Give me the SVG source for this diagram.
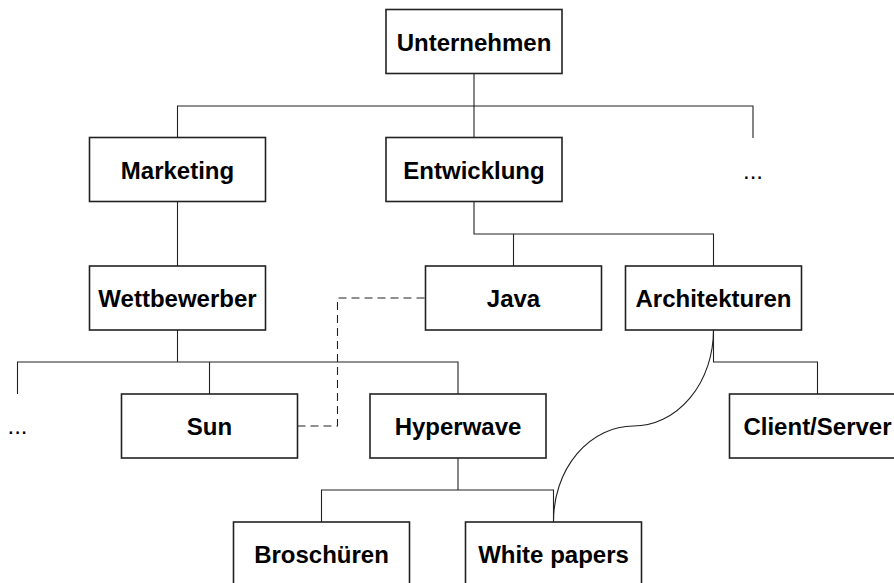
<svg xmlns="http://www.w3.org/2000/svg" width="894" height="583" viewBox="0 0 894 583">
  <style>
    .box rect { fill: #fff; stroke: #222; stroke-width: 1.6; }
    .box text { font-family: "Liberation Sans", Arial, sans-serif; font-weight: bold; font-size: 24px; text-anchor: middle; fill: #000; }
    .more { font-family: "Liberation Sans", Arial, sans-serif; font-size: 24px; text-anchor: middle; fill: #000; }
    #connectors path { fill: none; stroke: #222; stroke-width: 1.1; }
    #connectors .dashed { stroke-dasharray: 8 5; }
  </style>
  <rect width="894" height="583" fill="#fff"/>

  <!-- tree connectors, drawn beneath the boxes -->
  <g id="connectors">
    <path d="M474,73.5 V137.5"/>
    <path d="M177.5,137.5 V106 H753 V138"/>
    <path d="M177.5,201.5 V266"/>
    <path d="M474,201.5 V234 H713.5 V266"/>
    <path d="M513.5,234 V266"/>
    <path d="M177.5,330 V362"/>
    <path d="M17.5,394 V362 H458 V394"/>
    <path d="M209.5,362 V394"/>
    <path d="M713.5,330 V362 H817.5 V394"/>
    <path d="M458,458 V490"/>
    <path d="M321.5,522 V490 H553.5 V522"/>
    <path class="dashed" d="M297.5,426 H337.5 V298 H425.5"/>
    <path d="M713.5,330 A80,96 0 0 1 633.5,426 A80,95 0 0 0 553.5,521"/>
  </g>

  <g id="unternehmen" class="box"><rect x="386" y="9.5" width="176" height="64"/><text x="474" y="50.5">Unternehmen</text></g>
  <g id="marketing" class="box"><rect x="89.5" y="137.5" width="176" height="64"/><text x="177.5" y="178.5">Marketing</text></g>
  <g id="entwicklung" class="box"><rect x="386" y="137.5" width="176" height="64"/><text x="474" y="178.5">Entwicklung</text></g>
  <g id="wettbewerber" class="box"><rect x="89.5" y="266" width="176" height="64"/><text x="177.5" y="307">Wettbewerber</text></g>
  <g id="java" class="box"><rect x="425.5" y="266" width="176" height="64"/><text x="513.5" y="307">Java</text></g>
  <g id="architekturen" class="box"><rect x="625.5" y="266" width="176" height="64"/><text x="713.5" y="307">Architekturen</text></g>
  <g id="sun" class="box"><rect x="121.5" y="394" width="176" height="64"/><text x="209.5" y="435">Sun</text></g>
  <g id="hyperwave" class="box"><rect x="370" y="394" width="176" height="64"/><text x="458" y="435">Hyperwave</text></g>
  <g id="client-server" class="box"><rect x="729.5" y="394" width="176" height="64"/><text x="817.5" y="435">Client/Server</text></g>
  <g id="broschueren" class="box"><rect x="233.5" y="522" width="176" height="64"/><text x="321.5" y="563">Broschüren</text></g>
  <g id="white-papers" class="box"><rect x="465.5" y="522" width="176" height="64"/><text x="553.5" y="563">White papers</text></g>

  <!-- elided siblings -->
  <g id="more-top"><text class="more" x="753" y="178.5">...</text></g>
  <g id="more-left"><text class="more" x="17.5" y="434">...</text></g>
</svg>
